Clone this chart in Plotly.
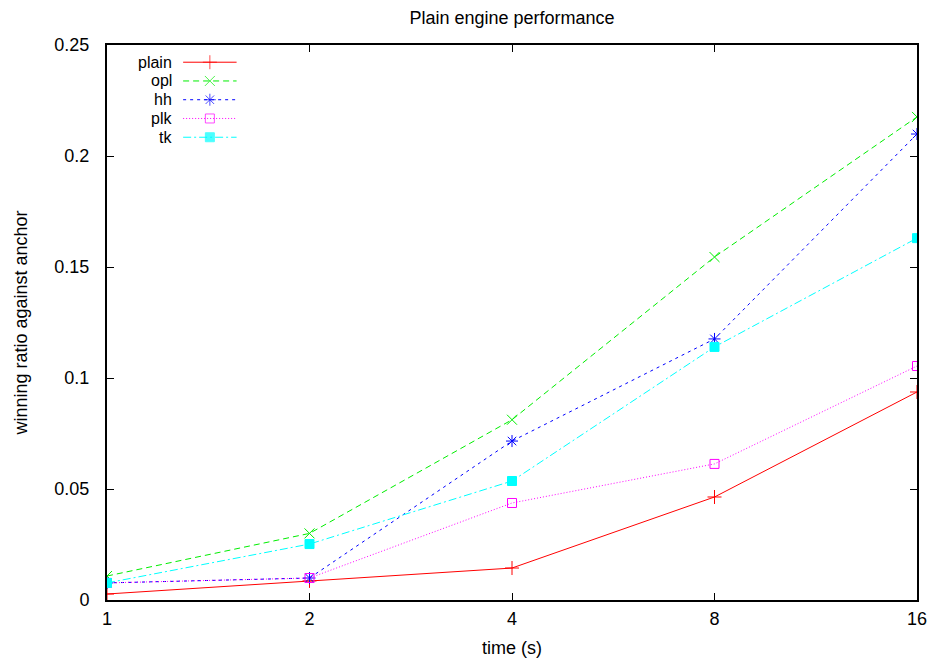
import plotly.graph_objects as go

times = [1, 2, 4, 8, 16]
plain = [0.0027, 0.0086, 0.0144, 0.0464, 0.0937]
opl = [0.0108, 0.0300, 0.0812, 0.1545, 0.2176]
hh = [0.0077, 0.0099, 0.0716, 0.1176, 0.2099]
plk = [0.0077, 0.0099, 0.0437, 0.0613, 0.1054]
tk = [0.0077, 0.0252, 0.0536, 0.1140, 0.1630]

names = ["plain", "opl", "hh", "plk", "tk"]
values = [plain, opl, hh, plk, tk]
colors = ["#ff0000", "#00ee00", "#0000ff", "#ff00ff", "#00ffff"]
dashes = ["solid", "6px,4px", "3px,4px", "1px,2px", "8px,3px,2px,3px"]
symbols = ["cross-thin-open", "x-thin-open", "asterisk-open", "square-open", "square"]
msizes = [10, 10, 10, 9, 9]

FONT = "Liberation Sans, Arial, sans-serif"
FS = 18
LFS = 16

fig = go.Figure()
for n, v, c, d, s, ms in zip(names, values, colors, dashes, symbols, msizes):
    fig.add_trace(go.Scatter(
        x=times, y=v, mode="lines+markers", name=n, showlegend=False,
        line=dict(color=c, width=1, dash=d),
        marker=dict(symbol=s, size=ms, color=c, line=dict(color=c, width=1)),
    ))

# custom legend (text on left, sample on right) on an overlay axis in [0,1]
for i, (n, c, d, s, ms) in enumerate(zip(names, colors, dashes, symbols, msizes)):
    yy = 0.969 - i * 0.0338
    fig.add_trace(go.Scatter(
        x=[0.094, 0.127, 0.160], y=[yy, yy, yy], xaxis="x2", yaxis="y2",
        mode="lines+markers", showlegend=False, hoverinfo="skip",
        line=dict(color=c, width=1, dash=d),
        marker=dict(symbol=s, size=[0, ms, 0], color=c, line=dict(color=c, width=1)),
    ))
    fig.add_annotation(x=0.081, y=yy, xref="x2", yref="y2", text=n, showarrow=False,
                       xanchor="right", yanchor="middle", borderpad=0,
                       font=dict(family=FONT, size=LFS, color="black"))

fig.update_layout(
    width=936, height=662,
    margin=dict(l=99, r=27, t=37, b=70),
    paper_bgcolor="white", plot_bgcolor="white",
    font=dict(family=FONT, size=FS, color="black"),
    title=dict(text="Plain engine performance", x=0.5, xref="paper", xanchor="center",
               y=1 - 10 / 662, yref="container", yanchor="middle",
               font=dict(family=FONT, size=FS, color="black")),
    xaxis=dict(type="log", range=[0, 1.20412], tickvals=times, ticktext=[str(t) for t in times],
               tickfont=dict(family=FONT, size=FS),
               ticks="inside", ticklen=7, tickcolor="black", showline=True, linecolor="black",
               linewidth=2, mirror="ticks", showgrid=False, zeroline=False,
               ticklabelstandoff=1,
               title=dict(text="time (s)", standoff=14, font=dict(family=FONT, size=FS))),
    yaxis=dict(range=[0, 0.25], tickvals=[0, 0.05, 0.1, 0.15, 0.2, 0.25],
               ticktext=["0", "0.05", "0.1", "0.15", "0.2", "0.25"],
               tickfont=dict(family=FONT, size=FS),
               ticks="inside", ticklen=7, tickcolor="black", showline=True, linecolor="black",
               linewidth=2, mirror="ticks", showgrid=False, zeroline=False,
               ticklabelstandoff=12,
               title=dict(text="winning ratio against anchor", standoff=22,
                          font=dict(family=FONT, size=FS))),
    xaxis2=dict(overlaying="x", range=[0, 1], visible=False, fixedrange=True),
    yaxis2=dict(overlaying="y", range=[0, 1], visible=False, fixedrange=True),
)

fig.write_html("out.html")
